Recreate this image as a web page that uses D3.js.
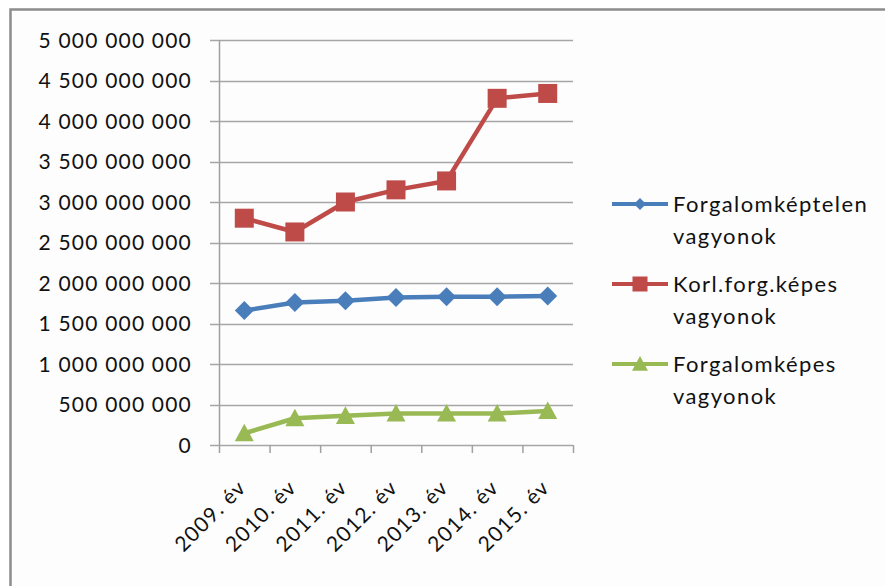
<!DOCTYPE html>
<meta charset="utf-8">
<style>
body { margin: 0; background: #fff; }
text { font-family: Lato, "Open Sans", sans-serif; font-size: 21px; letter-spacing: 1.2px; fill: #111; }
.legend text { font-size: 22px; letter-spacing: 1.4px; }
.grid line { stroke: #a6a6a6; stroke-width: 1.5; }
.series path.line { fill: none; stroke-width: 4.5; stroke-linejoin: round; }
</style>
<svg width="885" height="586"></svg>
<script src="https://d3js.org/d3.v7.min.js"></script>
<script>

var years = ["2009. év", "2010. év", "2011. év", "2012. év", "2013. év", "2014. év", "2015. év"];

var forgalomkeptelen = [1660000000, 1760000000, 1780000000, 1820000000, 1830000000, 1830000000, 1840000000];
var korlForgKepes = [2800000000, 2630000000, 3000000000, 3150000000, 3260000000, 4280000000, 4340000000];
var forgalomkepes = [145000000, 330000000, 360000000, 390000000, 390000000, 390000000, 420000000];

var yTicks = [0, 500000000, 1000000000, 1500000000, 2000000000, 2500000000, 3000000000, 3500000000, 4000000000, 4500000000, 5000000000];

var seriesNames = [["Forgalomképtelen", "vagyonok"], ["Korl.forg.képes", "vagyonok"], ["Forgalomképes", "vagyonok"]];

var series = [
  { name: seriesNames[0], values: forgalomkeptelen, color: "#4a7ebb", marker: "diamond" },
  { name: seriesNames[1], values: korlForgKepes, color: "#be4b48", marker: "square" },
  { name: seriesNames[2], values: forgalomkepes, color: "#98b954", marker: "triangle" }
];

var svg = d3.select("svg");

// chart frame (only top and left edges show)
svg.append("rect")
    .attr("x", 10.5)
    .attr("y", 9.5)
    .attr("width", 900)
    .attr("height", 600)
    .attr("fill", "#fdfdfd")
    .attr("stroke", "#8c8c8c")
    .attr("stroke-width", 2.5);

var x = d3.scaleBand()
    .domain(years)
    .range([219, 573]);

var y = d3.scaleLinear()
    .domain([0, 5000000000])
    .range([445, 40]);

var fmt = function(d) { return d3.format(",")(d).replace(/,/g, " "); };

// gridlines
svg.append("g")
    .attr("class", "grid")
  .selectAll("line")
  .data(yTicks)
  .enter().append("line")
    .attr("x1", 210)
    .attr("x2", x.range()[1])
    .attr("y1", function(d) { return Math.round(y(d)) + 0.5; })
    .attr("y2", function(d) { return Math.round(y(d)) + 0.5; });

// y axis line
svg.append("line")
    .attr("x1", 219.5).attr("x2", 219.5)
    .attr("y1", y(5000000000)).attr("y2", y(0) + 1)
    .attr("stroke", "#a0a0a0")
    .attr("stroke-width", 1.5);

// y tick labels
svg.append("g")
  .selectAll("text")
  .data(yTicks)
  .enter().append("text")
    .attr("x", 192)
    .attr("y", function(d) { return y(d); })
    .attr("dy", "0.36em")
    .attr("text-anchor", "end")
    .text(fmt);

// x ticks at category boundaries
var bounds = years.map(function(d) { return x(d); }).concat([x.range()[1]]);
svg.append("g")
  .selectAll("line")
  .data(bounds)
  .enter().append("line")
    .attr("x1", function(d) { return d + 0.5; })
    .attr("x2", function(d) { return d + 0.5; })
    .attr("y1", y(0))
    .attr("y2", y(0) + 8)
    .attr("stroke", "#a0a0a0")
    .attr("stroke-width", 1.5);

// x labels, rotated
svg.append("g")
  .selectAll("text")
  .data(years)
  .enter().append("text")
    .attr("text-anchor", "end")
    .attr("transform", function(d) {
      return "translate(" + (x(d) + x.bandwidth() / 2 + 3) + ",489) rotate(-45)";
    })
    .text(function(d) { return d; });

function markerPath(type, s) {
  if (type === "diamond") return "M0," + (-s) + "L" + s + ",0L0," + s + "L" + (-s) + ",0Z";
  if (type === "square") return "M" + (-s) + "," + (-s) + "H" + s + "V" + s + "H" + (-s) + "Z";
  return "M0," + (-s) + "L" + s + "," + (s * 0.85) + "H" + (-s) + "Z";
}

var markerSize = { diamond: 9.5, square: 9.5, triangle: 9.5 };
var legendSize = { diamond: 6, square: 7.5, triangle: 8 };

var line = d3.line()
    .x(function(d, i) { return x(years[i]) + x.bandwidth() / 2; })
    .y(function(d) { return y(d); });

var sg = svg.selectAll(".series")
  .data(series)
  .enter().append("g")
    .attr("class", "series");

sg.append("path")
    .attr("class", "line")
    .attr("stroke", function(d) { return d.color; })
    .attr("d", function(d) { return line(d.values); });

sg.each(function(s) {
  d3.select(this).selectAll(".mk")
    .data(s.values)
    .enter().append("path")
      .attr("class", "mk")
      .attr("fill", s.color)
      .attr("transform", function(d, i) {
        return "translate(" + (x(years[i]) + x.bandwidth() / 2) + "," + y(d) + ")";
      })
      .attr("d", markerPath(s.marker, markerSize[s.marker]));
});

// legend
var legendY = [204, 284, 364];
var lg = svg.selectAll(".legend")
  .data(series)
  .enter().append("g")
    .attr("class", "legend")
    .attr("transform", function(d, i) { return "translate(0," + legendY[i] + ")"; });

lg.append("line")
    .attr("x1", 612).attr("x2", 668)
    .attr("stroke", function(d) { return d.color; })
    .attr("stroke-width", 4);

lg.append("path")
    .attr("transform", "translate(640,0)")
    .attr("fill", function(d) { return d.color; })
    .attr("d", function(d) { return markerPath(d.marker, legendSize[d.marker]); });

lg.append("text")
    .attr("x", 673)
    .attr("y", 8)
    .text(function(d) { return d.name[0]; });

lg.append("text")
    .attr("x", 673)
    .attr("y", 40)
    .text(function(d) { return d.name[1]; });

</script>
